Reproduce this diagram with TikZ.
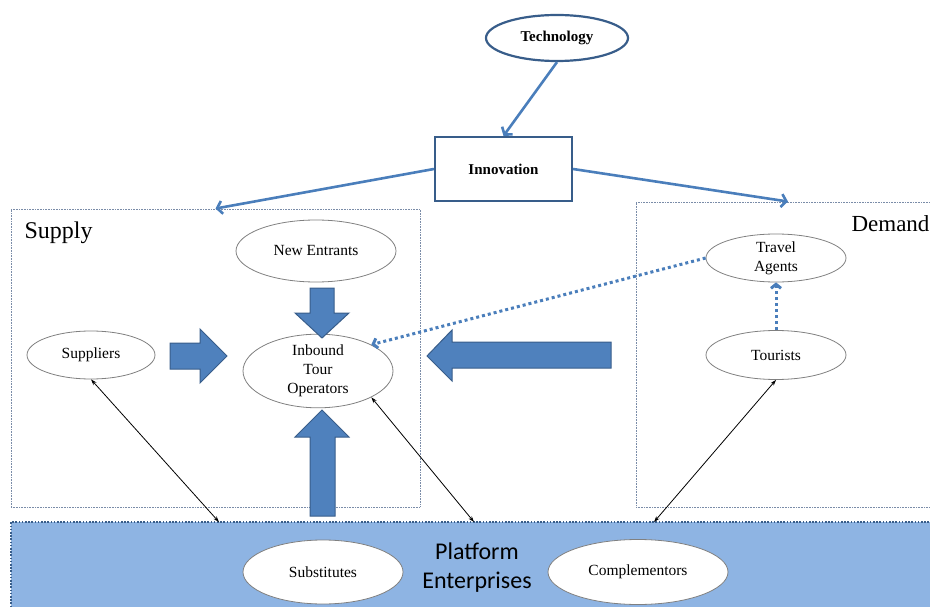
\documentclass[tikz,border=0pt]{standalone}
\usepackage{fontspec}
\setmainfont{Liberation Serif}
\newfontfamily\calibrifont{Carlito}
\usetikzlibrary{shapes.geometric,arrows.meta}

\definecolor{linkblue}{HTML}{4A7EBB}
\definecolor{darkblue}{HTML}{385D8A}
\definecolor{arrowfill}{HTML}{4F81BD}
\definecolor{platformblue}{HTML}{8EB4E3}
\definecolor{boxgray}{HTML}{7A8CA8}

\begin{document}
\begin{tikzpicture}[x=1pt,y=-1pt,
    oval/.style={ellipse, draw=gray, line width=0.8pt, inner sep=0pt, align=center, font=\fontsize{15.5}{19}\selectfont},
    region/.style={draw=boxgray, dash pattern=on 0.8pt off 0.8pt, line width=0.9pt, inner sep=0pt},
    bluelink/.style={-{Straight Barb[length=5pt,width=13pt]}, linkblue, line width=2.6pt},
    dotlink/.style={-{Straight Barb[length=4pt,width=10pt]}, linkblue, line width=3pt, dash pattern=on 3pt off 3pt},
    thinlink/.style={{Stealth[length=6pt,width=4pt]}-{Stealth[length=6pt,width=4pt]}, black, line width=0.8pt},
    blockarrow/.style={fill=arrowfill, draw=darkblue, line width=1pt, line join=miter}]
    \useasboundingbox (0,0) rectangle (930,607);
    \clip (0,0) rectangle (930,607);

    % regions
    \node[region, minimum width=409pt, minimum height=298pt] (supply) at (215.5,358) {};
    \node[region, minimum width=304pt, minimum height=305pt] (demand) at (788,354.5) {};
    \node[fill=platformblue, draw=darkblue, line width=1.6pt, dash pattern=on 1.6pt off 1.6pt,
          inner sep=0pt, minimum width=929pt, minimum height=100pt] (platform) at (475.5,572) {};
    \node[anchor=base west, font=\fontsize{24}{28}\selectfont] (supplylbl) at (21,238) {Supply};
    \node[anchor=base west, font=\fontsize{23}{28}\selectfont] (demandlbl) at (848,232) {Demand};

    % top
    \node[ellipse, draw=darkblue, line width=2.2pt, minimum width=142pt, minimum height=46pt,
          font=\fontsize{15}{18}\selectfont\bfseries] (tech) at (557,38) {Technology};
    \node[draw=darkblue, line width=2.2pt, minimum width=137pt, minimum height=64pt,
          font=\fontsize{15}{18}\selectfont\bfseries] (innov) at (503.5,169) {Innovation};

    % ovals
    \node[oval, minimum width=160pt, minimum height=62pt] (entrants) at (316,251) {New Entrants};
    \node[oval, minimum width=128pt, minimum height=48pt] (suppliers) at (91,355) {Suppliers};
    \node[oval, minimum width=150pt, minimum height=63pt] (inbound) at (318,371) {Inbound\\Tour\\Operators};
    \node[oval, minimum width=140pt, minimum height=48pt] (agents) at (776,258) {Travel\\Agents};
    \node[oval, minimum width=140pt, minimum height=49pt] (tourists) at (776,355) {Tourists};
    \node[oval, fill=white, minimum width=160pt, minimum height=64pt] (subst) at (323,572) {Substitutes};
    \node[oval, fill=white, minimum width=180pt, minimum height=65pt] (compl) at (638,572) {Complementors};
    \node[font=\calibrifont\fontsize{24}{29}\selectfont, align=center] (platlbl) at (477,568) {Platform\\Enterprises};

    % block arrows
    \draw[blockarrow] (310,288) -- (334,288) -- (334,313) -- (349,313) -- (322,338) -- (295,313) -- (310,313) -- cycle;
    \draw[blockarrow] (170,343) -- (200,343) -- (200,329) -- (227,356) -- (200,383) -- (200,369) -- (170,369) -- cycle;
    \draw[blockarrow] (611,342) -- (452,342) -- (452,330) -- (427,356) -- (452,381) -- (452,368) -- (611,368) -- cycle;
    \draw[blockarrow] (310,516) -- (310,437) -- (295,437) -- (322,410) -- (349,437) -- (335,437) -- (335,516) -- cycle;

    % links
    \draw[bluelink] (tech.south) -- (innov.north);
    \draw[bluelink] (innov.west) -- (supply.north);
    \draw[bluelink] (innov.east) -- (demand.north);
    \draw[dotlink] (agents.west) -- (inbound.north east);
    \draw[dotlink] (tourists.north) -- (agents.south);

    \coordinate (p1) at (219,522);
    \coordinate (p2) at (474,522);
    \coordinate (p3) at (654,522);
    \draw[thinlink] (suppliers.south) -- (p1);
    \draw[thinlink] (inbound.south east) -- (p2);
    \draw[thinlink] (tourists.south) -- (p3);
\end{tikzpicture}
\end{document}
